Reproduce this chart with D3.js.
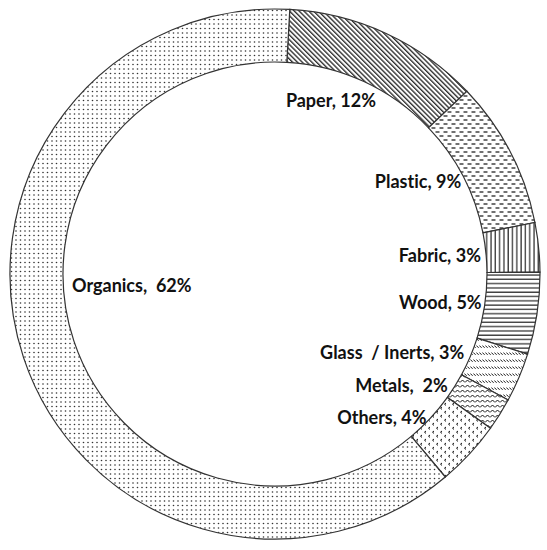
<!DOCTYPE html>
<html>
<head>
<meta charset="utf-8">
<script src="https://cdn.jsdelivr.net/npm/d3@7"></script>
<style>
  body { margin: 0; background: #fff; }
  svg { display: block; }
</style>
</head>
<body>
<div id="chart"></div>
<script>
// Données
const categories = ["Paper", "Plastic", "Fabric", "Wood", "Glass  / Inerts", "Metals", "Others", "Organics"];
const shares = [12, 9, 3, 5, 3, 2, 4, 62];
const labels = ["Paper, 12%", "Plastic, 9%", "Fabric, 3%", "Wood, 5%", "Glass  / Inerts, 3%", "Metals,  2%", "Others, 4%", "Organics,  62%"];
const patterns = ["diag", "dash", "vert", "horiz", "diagdash", "zigzag", "chevron", "dots"];

const data = categories.map((c, i) => ({ name: c, value: shares[i], label: labels[i], pattern: patterns[i] }));

// Dimensions
const width = 547;
const height = 550;
const cx = 275, cy = 274;
const outerR = 265;
const innerR = 212;

const svg = d3.select("#chart").append("svg")
    .attr("width", width)
    .attr("height", height);

// Motifs
const defs = svg.append("defs");
function pat(id, w, h, transform) {
    const p = defs.append("pattern")
        .attr("id", id)
        .attr("patternUnits", "userSpaceOnUse")
        .attr("width", w)
        .attr("height", h);
    if (transform) p.attr("patternTransform", transform);
    p.append("rect").attr("width", w).attr("height", h).attr("fill", "#fff");
    return p;
}
const ink = "#111";

pat("diag", 3.4, 3.4, "rotate(45)")
    .append("line").attr("x1", 0).attr("x2", 3.4).attr("y1", 1).attr("y2", 1)
    .attr("stroke", ink).attr("stroke-width", 1.2);

const dash = pat("dash", 8, 8);
dash.append("line").attr("x1", 0.5).attr("x2", 4.5).attr("y1", 2).attr("y2", 2).attr("stroke", ink).attr("stroke-width", 1.2);
dash.append("line").attr("x1", 4.5).attr("x2", 8.5).attr("y1", 6).attr("y2", 6).attr("stroke", ink).attr("stroke-width", 1.2);
dash.append("line").attr("x1", -3.5).attr("x2", 0.5).attr("y1", 6).attr("y2", 6).attr("stroke", ink).attr("stroke-width", 1.2);

pat("vert", 4.3, 4.3)
    .append("line").attr("x1", 1).attr("x2", 1).attr("y1", 0).attr("y2", 4.3)
    .attr("stroke", ink).attr("stroke-width", 1.1);

pat("horiz", 4.3, 4.3)
    .append("line").attr("x1", 0).attr("x2", 4.3).attr("y1", 1).attr("y2", 1)
    .attr("stroke", ink).attr("stroke-width", 1.1);

pat("diagdash", 3, 7)
    .append("line").attr("x1", 0.3).attr("x2", 2.6).attr("y1", 1.5).attr("y2", 3.8)
    .attr("stroke", ink).attr("stroke-width", 1);

pat("zigzag", 5, 5)
    .append("path").attr("d", "M0,3.5 L2.5,1 L5,3.5")
    .attr("fill", "none").attr("stroke", ink).attr("stroke-width", 1);

const chev = pat("chevron", 8, 8);
chev.append("path").attr("d", "M3,1 L1.5,2.2 L3,3.4").attr("fill", "none").attr("stroke", ink).attr("stroke-width", 1);
chev.append("path").attr("d", "M7,5 L5.5,6.2 L7,7.4").attr("fill", "none").attr("stroke", ink).attr("stroke-width", 1);

const dots = pat("dots", 9, 9);
dots.append("circle").attr("cx", 2).attr("cy", 2).attr("r", 0.8).attr("fill", "#333");
dots.append("circle").attr("cx", 6.5).attr("cy", 2).attr("r", 0.8).attr("fill", "#333");
dots.append("circle").attr("cx", 2).attr("cy", 6.5).attr("r", 0.8).attr("fill", "#333");
dots.append("circle").attr("cx", 6.5).attr("cy", 6.5).attr("r", 0.8).attr("fill", "#333");

// Secteurs
const startAngle = 3.2 * Math.PI / 180;
const pie = d3.pie()
    .value(d => d.value)
    .sort(null)
    .startAngle(startAngle)
    .endAngle(startAngle + 2 * Math.PI);

const arc = d3.arc().innerRadius(innerR).outerRadius(outerR);

const g = svg.append("g").attr("transform", `translate(${cx},${cy})`);

const arcs = pie(data);

g.selectAll("path")
    .data(arcs)
    .join("path")
    .attr("d", arc)
    .attr("fill", d => `url(#${d.data.pattern})`)
    .attr("stroke", "#333")
    .attr("stroke-width", 1.2);

// Étiquettes : collées au bord intérieur, ajustées à la main
const nudge = {
    "Paper": [12, 18],
    "Plastic": [-2, 5],
    "Fabric": [-5, 2],
    "Wood": [-3, -4],
    "Glass  / Inerts": [-6, -5],
    "Metals": [-7, -1],
    "Others": [-4, -1],
    "Organics": [0, 0]
};
const labelR = innerR;

g.selectAll("text")
    .data(arcs)
    .join("text")
    .attr("x", d => {
        if (d.data.name === "Organics") return -203;
        const a = (d.startAngle + d.endAngle) / 2;
        return labelR * Math.sin(a) + nudge[d.data.name][0];
    })
    .attr("y", d => {
        if (d.data.name === "Organics") return 11;
        const a = (d.startAngle + d.endAngle) / 2;
        return -labelR * Math.cos(a) + nudge[d.data.name][1];
    })
    .attr("text-anchor", d => d.data.name === "Organics" ? "start" : "end")
    .attr("dominant-baseline", "central")
    .attr("font-family", "Lato, 'Open Sans', sans-serif")
    .attr("font-weight", "bold")
    .attr("font-size", "18px")
    .attr("fill", "#111")
    .style("white-space", "pre")
    .style("font-variant-ligatures", "none")
    .text(d => d.data.label);
</script>
</body>
</html>
